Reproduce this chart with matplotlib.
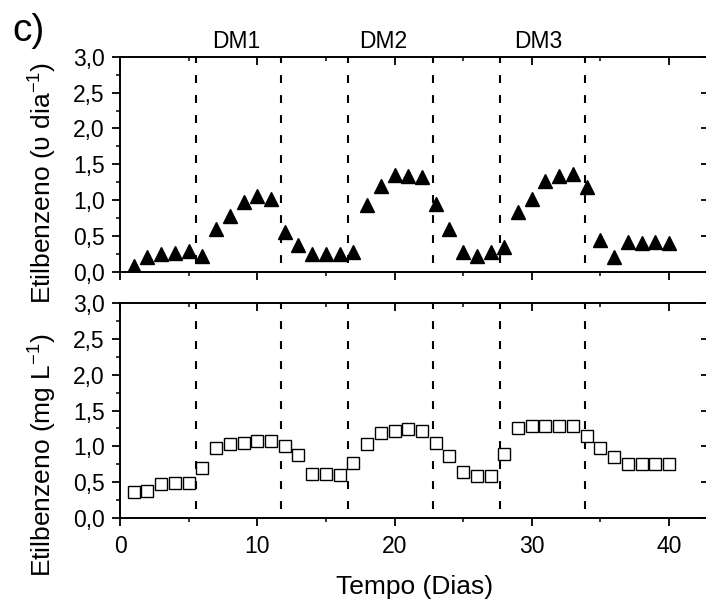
import matplotlib
matplotlib.use('Agg')
import matplotlib.pyplot as plt

plt.rcParams['font.family'] = ['Liberation Sans', 'DejaVu Sans']
plt.rcParams['mathtext.fontset'] = 'custom'
plt.rcParams['mathtext.rm'] = 'Liberation Sans'
plt.rcParams['mathtext.default'] = 'regular'

# days of sampling
dias = list(range(1, 41))

# removal rate (top panel, triangles)
taxa = [0.08, 0.20, 0.25, 0.26, 0.29, 0.22, 0.60, 0.78, 0.97, 1.06,
        1.01, 0.56, 0.37, 0.25, 0.25, 0.25, 0.27, 0.93, 1.19, 1.35,
        1.34, 1.32, 0.95, 0.59, 0.27, 0.22, 0.27, 0.35, 0.83, 1.01,
        1.27, 1.33, 1.37, 1.18, 0.45, 0.21, 0.42, 0.40, 0.41, 0.40]

# concentration (bottom panel, open squares)
conc = [0.37, 0.38, 0.47, 0.49, 0.49, 0.70, 0.98, 1.03, 1.04, 1.07,
        1.07, 1.00, 0.88, 0.61, 0.61, 0.60, 0.77, 1.03, 1.19, 1.21,
        1.24, 1.21, 1.04, 0.87, 0.64, 0.59, 0.59, 0.90, 1.26, 1.28,
        1.29, 1.29, 1.28, 1.15, 0.98, 0.85, 0.76, 0.75, 0.76, 0.75]

# phase boundaries and phase names
limites = [5.5, 11.7, 16.6, 22.8, 27.7, 33.85]
fases = ['DM1', 'DM2', 'DM3']
fases_x = [8.5, 19.2, 30.5]

yticks = [0, 0.5, 1.0, 1.5, 2.0, 2.5, 3.0]
ytick_labels = ['0,0', '0,5', '1,0', '1,5', '2,0', '2,5', '3,0']
xticks = [0, 10, 20, 30, 40]
xtick_labels = ['0', '10', '20', '30', '40']

fig = plt.figure(figsize=(7.06, 6.08), dpi=100)
ax1 = fig.add_axes([0.170, 0.553, 0.834, 0.3536])
ax2 = fig.add_axes([0.170, 0.148, 0.834, 0.3536])

for ax in (ax1, ax2):
    ax.set_xlim(0, 42.9)
    ax.set_ylim(0, 3.0)
    ax.set_yticks(yticks)
    ax.set_yticklabels(ytick_labels)
    ax.set_yticks([0.25, 0.75, 1.25, 1.75, 2.25, 2.75], minor=True)
    ax.set_xticks(xticks)
    ax.set_xticks([5, 15, 25, 35], minor=True)
    for s in ax.spines.values():
        s.set_linewidth(1.4)
    ax.tick_params(which='major', length=6, width=1.3, labelsize=16.5)
    ax.tick_params(which='minor', length=3, width=1.1)
    ax.tick_params(axis='x', which='both', top=True, direction='out', pad=6)
    ax.tick_params(axis='y', which='both', right=True, direction='out', pad=5)
    # Origin style: ticks on top/right point inward
    for t in ax.xaxis.get_major_ticks() + ax.xaxis.get_minor_ticks():
        t.tick2line.set_marker(3)
    for t in ax.yaxis.get_major_ticks():
        t.tick2line.set_marker(0)
    for t in ax.yaxis.get_minor_ticks():
        t.tick2line.set_visible(False)
    ax.vlines(limites, 0.12, 3.0, colors='k', linewidth=1.5,
              linestyles=(0, (3.8, 5.8)), zorder=1)

ax1.set_xticklabels([])
ax2.set_xticklabels(xtick_labels)

ax1.plot(dias, taxa, linestyle='none', marker='^', markersize=10,
         color='k', zorder=3)
ax2.plot(dias, conc, linestyle='none', marker='s', markersize=8,
         markerfacecolor='white', markeredgecolor='k', markeredgewidth=1.0,
         zorder=3)

for nome, xf in zip(fases, fases_x):
    ax1.text(xf, 3.21, nome, ha='center', va='center', fontsize=16.5,
             clip_on=False)

fig.text(43 / 706, 1 - 183 / 608, 'Etilbenzeno (\u03c5 dia$^{-1}$)',
         rotation=90, ha='center', va='center', fontsize=19)
fig.text(43 / 706, 1 - 455 / 608, 'Etilbenzeno (mg L$^{-1}$)',
         rotation=90, ha='center', va='center', fontsize=19)
fig.text(415 / 706, 1 - 587 / 608, 'Tempo (Dias)', ha='center',
         va='center', fontsize=19)
fig.text(12 / 706, 1 - 31 / 608, 'c)', ha='left', va='center', fontsize=28)

fig.savefig('out.png', dpi=100)
